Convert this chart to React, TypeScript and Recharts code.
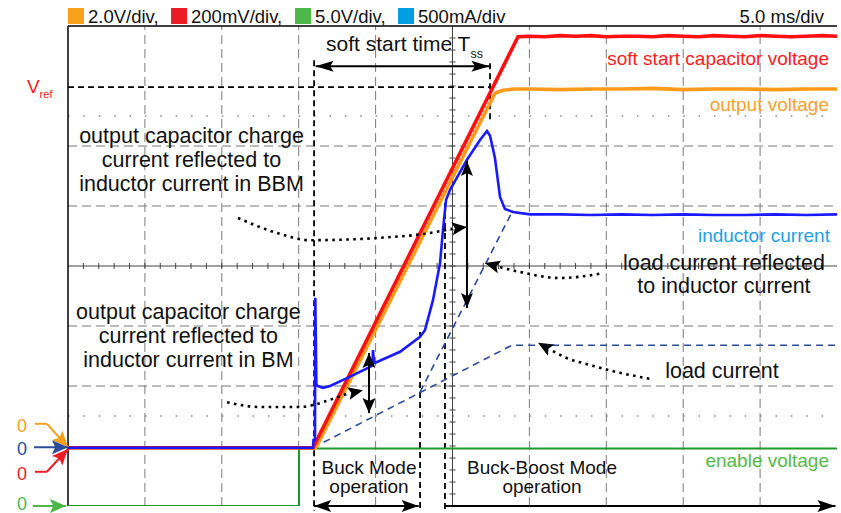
import { ComposedChart, Line, XAxis, YAxis, ReferenceLine, ReferenceDot } from "recharts";

const FONT = "'Liberation Sans', Arial, Helvetica, sans-serif";

// time in ms (5.0 ms/div, 10 div); vertical in screen divisions (-4..4)
const gridX = [5, 10, 15, 20, 30, 35, 40, 45];
const gridY = [2, 1, -1, -2];
const dotGridY = [2.5, -2.5];

// enable voltage
const enableT = [0, 15.02, 15.02, 50];
const enableV = [-4, -4, -3.04, -3.04];

// soft start capacitor voltage
const ssT = [0, 15.93, 29.26, 30, 31, 32, 33, 34, 35, 36, 37, 38, 39, 40, 41, 42, 43, 44, 45, 46, 47, 48, 49, 50];
const ssV = [-3.03, -3.03, 3.82, 3.83, 3.82, 3.84, 3.83, 3.84, 3.82, 3.83, 3.83, 3.82, 3.84, 3.83, 3.82, 3.84, 3.83, 3.82, 3.84, 3.83, 3.82, 3.83, 3.84, 3.83];

// output voltage
const outT = [0, 16.12, 27.76, 28.28, 29, 30, 32, 34, 36, 38, 40, 42, 44, 46, 48, 50];
const outV = [-3.03, -3.03, 2.88, 2.93, 2.95, 2.95, 2.94, 2.95, 2.95, 2.96, 2.94, 2.95, 2.95, 2.94, 2.95, 2.95];

// inductor current
const indT = [0, 15.93, 15.96, 16.06, 16.08, 16.15, 16.25, 16.58, 17.04, 18.14, 19.64, 19.8, 19.83, 19.9, 20.09, 21.59, 22.89, 23.21, 23.73, 24.19, 24.38, 24.58, 24.84, 25.94, 26.79, 27.24, 27.44, 27.76, 28.09, 28.41, 28.93, 30.04, 32, 34, 36, 38, 40, 42, 44, 46, 48, 50];
const indV = [-3.03, -3.03, -2.9, -2.9, -0.53, -1.98, -2.0, -2.03, -2.0, -1.87, -1.68, -1.65, -1.4, -1.62, -1.6, -1.43, -1.18, -1.07, -0.57, 0.05, 0.6, 1.1, 1.27, 1.77, 2.1, 2.25, 2.17, 1.8, 1.15, 0.95, 0.9, 0.86, 0.86, 0.85, 0.86, 0.85, 0.86, 0.85, 0.85, 0.86, 0.85, 0.86];

// load current (sketched, dashed)
const loadT = [15.93, 28.87, 50];
const loadV = [-3.03, -1.32, -1.32];
const loadReflT = [22.89, 28.93];
const loadReflV = [-2.1, 0.93];

// dotted pointer curves (end at arrow base)
const bbmCurveT = [11.05, 13.59, 15.73, 20.29, 23.54, 24.97];
const bbmCurveV = [0.8, 0.55, 0.43, 0.47, 0.55, 0.62];
const reflCurveT = [28.09, 29.39, 31.99, 34.79];
const reflCurveV = [-0.02, -0.1, -0.2, -0.12];
const loadCurveT = [31.53, 32.31, 33.94, 35.89, 37.84];
const loadCurveV = [-1.42, -1.52, -1.65, -1.78, -1.88];
const bmCurveT = [10.34, 12.48, 15.08, 17.04, 18.14];
const bmCurveV = [-2.27, -2.35, -2.35, -2.23, -2.13];

const legendLabels = ["2.0V/div,", "200mV/div,", "5.0V/div,", "500mA/div"];
const legendColors = ["#f7a11a", "#ed1c24", "#4db848", "#009ee0"];
const legendBoxT = [0, 6.7, 14.76, 21.46];

const pts = (ts: number[], vs: number[]) => ts.map((t, i) => ({ t, v: vs[i] }));

const arrow =
  (len: number, half: number, start: boolean, end: boolean, color = "#000", line = true, w = 2) =>
  (p: any) => {
    const { x1, y1, x2, y2 } = p;
    const dx = x2 - x1;
    const dy = y2 - y1;
    const L = Math.hypot(dx, dy) || 1;
    const ux = dx / L;
    const uy = dy / L;
    const head = (x: number, y: number, sx: number, sy: number) => {
      const bx = x - sx * len;
      const by = y - sy * len;
      const nx = x - sx * len * 0.8;
      const ny = y - sy * len * 0.8;
      return `${x},${y} ${bx - sy * half},${by + sx * half} ${nx},${ny} ${bx + sy * half},${by - sx * half}`;
    };
    return (
      <g>
        {line && <line x1={x1} y1={y1} x2={x2} y2={y2} stroke={color} strokeWidth={w} />}
        {end && <polygon points={head(x2, y2, ux, uy)} fill={color} />}
        {start && <polygon points={head(x1, y1, -ux, -uy)} fill={color} />}
      </g>
    );
  };

type Note = { t: number; d: number; lines: string[]; size: number; color: string; anchor: "start" | "middle" | "end"; lead?: number };

const notes: Note[] = [
  { t: 49.48, d: 3.35, lines: ["soft start capacitor voltage"], size: 19, color: "#ff2020", anchor: "end" },
  { t: 49.48, d: 2.58, lines: ["output voltage"], size: 19, color: "#f7a12e", anchor: "end" },
  { t: 49.54, d: 0.4, lines: ["inductor current"], size: 19, color: "#1ea0e6", anchor: "end" },
  { t: 49.48, d: -3.35, lines: ["enable voltage"], size: 19, color: "#55b947", anchor: "end" },
  { t: 42.65, d: -0.07, lines: ["load current reflected", "to inductor current"], size: 21.5, color: "#111", anchor: "middle", lead: 23 },
  { t: 42.52, d: -1.87, lines: ["load current"], size: 21.5, color: "#111", anchor: "middle" },
  { t: 8.03, d: 2.05, lines: ["output capacitor charge", "current reflected to", "inductor current in BBM"], size: 21.5, color: "#111", anchor: "middle", lead: 24 },
  { t: 7.83, d: -0.88, lines: ["output capacitor charge", "current reflected to", "inductor current in BM"], size: 21.5, color: "#111", anchor: "middle", lead: 24 },
  { t: 19.57, d: -3.47, lines: ["Buck Mode", "operation"], size: 19, color: "#111", anchor: "middle", lead: 19 },
  { t: 30.82, d: -3.47, lines: ["Buck-Boost Mode", "operation"], size: 19, color: "#111", anchor: "middle", lead: 19 },
  { t: 49.15, d: 4.05, lines: ["5.0 ms/div"], size: 18.5, color: "#111", anchor: "end" },
];

const textShape = (n: Note) => (p: any) => (
  <text x={p.cx} y={p.cy} fill={n.color} fontSize={n.size} fontFamily={FONT} textAnchor={n.anchor}>
    {n.lines.map((s, i) => (
      <tspan key={i} x={p.cx} dy={i === 0 ? 0 : n.lead ?? 24}>
        {s}
      </tspan>
    ))}
  </text>
);

const zeros = [
  { d: -2.77, color: "#f5a01a" },
  { d: -3.15, color: "#2a4a9a" },
  { d: -3.57, color: "#ec1c24" },
  { d: -4.06, color: "#4cb848" },
];

const hTicks = Array.from({ length: 49 }, (_, i) => i + 1);
const vTicks = Array.from({ length: 39 }, (_, i) => -3.8 + i * 0.2);

const GRID = "#7a7a7a";

export default function App() {
  return (
    <div style={{ position: "absolute", left: 0, top: 0, width: 841, height: 513, background: "#fff" }}>
      <ComposedChart width={841} height={513} margin={{ top: 26, right: 4, bottom: 7, left: 68 }}>
        <XAxis type="number" dataKey="t" domain={[0, 50]} hide allowDataOverflow />
        <YAxis type="number" domain={[-4, 4]} hide allowDataOverflow />

        {gridX.map((x) => (
          <ReferenceLine key={"gx" + x} x={x} stroke={GRID} strokeWidth={1} strokeDasharray="9 5" />
        ))}
        {gridY.map((y) => (
          <ReferenceLine key={"gy" + y} y={y} stroke={GRID} strokeWidth={1} strokeDasharray="9 5" />
        ))}
        {dotGridY.map((y) => (
          <ReferenceLine key={"dy" + y} y={y} stroke="#888" strokeWidth={1.5} strokeDasharray="1.5 13.88" />
        ))}
        <ReferenceLine x={25} stroke="#444" strokeWidth={1} />
        <ReferenceLine y={0} stroke="#444" strokeWidth={1} />
        {hTicks.map((t) => (
          <ReferenceLine key={"ht" + t} segment={[{ x: t, y: -0.05 }, { x: t, y: 0.05 }]} stroke="#444" strokeWidth={1} />
        ))}
        {vTicks.map((d, i) => (
          <ReferenceLine key={"vt" + i} segment={[{ x: 24.8, y: d }, { x: 25.2, y: d }]} stroke="#444" strokeWidth={1} />
        ))}
        <ReferenceLine y={4} stroke="#000" strokeWidth={1.5} />
        <ReferenceLine x={0} stroke="#000" strokeWidth={1.5} />

        {/* black dashed markers */}
        <ReferenceLine segment={[{ x: 0, y: 2.98 }, { x: 27.44, y: 2.98 }]} stroke="#000" strokeWidth={1.8} strokeDasharray="6 4" />
        <ReferenceLine segment={[{ x: 16.0, y: 3.43 }, { x: 16.0, y: -4.08 }]} stroke="#000" strokeWidth={1.8} strokeDasharray="6 4" ifOverflow="visible" />
        <ReferenceLine segment={[{ x: 27.44, y: 3.38 }, { x: 27.44, y: 2.43 }]} stroke="#000" strokeWidth={1.8} strokeDasharray="6 4" />
        <ReferenceLine segment={[{ x: 22.89, y: -1.1 }, { x: 22.89, y: -4.08 }]} stroke="#000" strokeWidth={1.8} strokeDasharray="6 4" ifOverflow="visible" />
        <ReferenceLine segment={[{ x: 24.51, y: 1.05 }, { x: 24.51, y: -4.08 }]} stroke="#000" strokeWidth={1.8} strokeDasharray="6 4" ifOverflow="visible" />

        <Line data={pts(enableT, enableV)} dataKey="v" type="linear" stroke="#1e9a2a" strokeWidth={2} dot={false} isAnimationActive={false} />
        <Line data={pts(loadT, loadV)} dataKey="v" type="linear" stroke="#2b4a9a" strokeWidth={1.6} strokeDasharray="7 5" dot={false} isAnimationActive={false} />
        <Line data={pts(loadReflT, loadReflV)} dataKey="v" type="linear" stroke="#2b4a9a" strokeWidth={1.6} strokeDasharray="7 5" dot={false} isAnimationActive={false} />
        <Line data={pts(outT, outV)} dataKey="v" type="linear" stroke="#ff9a1a" strokeWidth={3.6} dot={false} isAnimationActive={false} />
        <Line data={pts(ssT, ssV)} dataKey="v" type="linear" stroke="#ff1010" strokeWidth={3.6} dot={false} isAnimationActive={false} />
        <Line data={pts(indT, indV)} dataKey="v" type="linear" stroke="#1a1aff" strokeWidth={2.6} dot={false} isAnimationActive={false} />

        {/* dotted pointers */}
        {[
          [bbmCurveT, bbmCurveV],
          [reflCurveT, reflCurveV],
          [loadCurveT, loadCurveV],
          [bmCurveT, bmCurveV],
        ].map(([ts, vs], i) => (
          <Line key={"c" + i} data={pts(ts, vs)} dataKey="v" type="monotone" stroke="#000" strokeWidth={2.6} strokeDasharray="2.6 4.4" dot={false} isAnimationActive={false} />
        ))}
        <ReferenceLine segment={[{ x: 24.97, y: 0.62 }, { x: 25.94, y: 0.65 }]} shape={arrow(15, 6.5, false, true, "#000", false)} />
        <ReferenceLine segment={[{ x: 28.09, y: -0.02 }, { x: 27.11, y: 0.05 }]} shape={arrow(15, 6.5, false, true, "#000", false)} />
        <ReferenceLine segment={[{ x: 31.53, y: -1.42 }, { x: 30.56, y: -1.28 }]} shape={arrow(15, 6.5, false, true, "#000", false)} />
        <ReferenceLine segment={[{ x: 18.14, y: -2.13 }, { x: 19.18, y: -2.07 }]} shape={arrow(15, 6.5, false, true, "#000", false)} />

        {/* double arrows */}
        <ReferenceLine segment={[{ x: 16.1, y: 3.33 }, { x: 27.4, y: 3.33 }]} shape={arrow(18, 5.5, true, true)} />
        <ReferenceLine segment={[{ x: 25.94, y: 1.75 }, { x: 25.94, y: -0.7 }]} shape={arrow(15, 6, true, true)} />
        <ReferenceLine segment={[{ x: 19.57, y: -1.45 }, { x: 19.57, y: -2.45 }]} shape={arrow(15, 6.5, true, true)} />
        <ReferenceLine segment={[{ x: 16.0, y: -4 }, { x: 22.8, y: -4 }]} shape={arrow(17, 6, true, true)} ifOverflow="visible" />
        <ReferenceLine segment={[{ x: 24.51, y: -4 }, { x: 49.9, y: -4 }]} shape={arrow(18, 6, false, true)} ifOverflow="visible" />

        {/* zero markers at left */}
        <ReferenceLine segment={[{ x: -2.15, y: -2.63 }, { x: -1.37, y: -2.63 }]} stroke="#f5a01a" strokeWidth={2} ifOverflow="visible" />
        <ReferenceLine segment={[{ x: -1.37, y: -2.63 }, { x: 0, y: -3.02 }]} shape={arrow(16, 7, false, true, "#f5a01a", true)} ifOverflow="visible" />
        <ReferenceLine segment={[{ x: -2.21, y: -3.02 }, { x: 0, y: -3.02 }]} shape={arrow(16, 7, false, true, "#2a4a9a", true)} ifOverflow="visible" />
        <ReferenceLine segment={[{ x: -2.15, y: -3.43 }, { x: -1.37, y: -3.43 }]} stroke="#ec1c24" strokeWidth={2} ifOverflow="visible" />
        <ReferenceLine segment={[{ x: -1.37, y: -3.43 }, { x: 0, y: -3.05 }]} shape={arrow(16, 7, false, true, "#ec1c24", true)} ifOverflow="visible" />
        <ReferenceLine segment={[{ x: -2.28, y: -4 }, { x: -0.13, y: -4 }]} shape={arrow(16, 7, false, true, "#4cb848", true)} ifOverflow="visible" />
        {zeros.map((z, i) => (
          <ReferenceDot
            key={"z" + i}
            x={-2.99}
            y={z.d}
            ifOverflow="visible"
            shape={textShape({ t: 0, d: 0, lines: ["0"], size: 18, color: z.color, anchor: "middle" })}
          />
        ))}

        {/* Vref */}
        <ReferenceDot
          x={-2.67}
          y={2.88}
          ifOverflow="visible"
          shape={(p: any) => (
            <text x={p.cx} y={p.cy} fill="#ec1c24" fontFamily={FONT} fontSize={19}>
              V<tspan fontSize={11} dy={5}>ref</tspan>
            </text>
          )}
        />
        {/* Tss label */}
        <ReferenceDot
          x={16.78}
          y={3.58}
          ifOverflow="visible"
          shape={(p: any) => (
            <text x={p.cx} y={p.cy} fill="#111" fontFamily={FONT} fontSize={21}>
              soft start time T<tspan fontSize={12.5} dy={7}>ss</tspan>
            </text>
          )}
        />

        {/* header legend */}
        {legendLabels.map((s, i) => (
          <ReferenceDot
            key={"lg" + i}
            x={legendBoxT[i]}
            y={4.3}
            ifOverflow="visible"
            shape={(p: any) => (
              <g>
                <rect x={p.cx} y={p.cy} width={16} height={16} fill={legendColors[i]} />
                <text x={p.cx + 20} y={p.cy + 15} fill="#111" fontFamily={FONT} fontSize={18.5}>
                  {s}
                </text>
              </g>
            )}
          />
        ))}

        {notes.map((n, i) => (
          <ReferenceDot key={"n" + i} x={n.t} y={n.d} ifOverflow="visible" shape={textShape(n)} />
        ))}
      </ComposedChart>
    </div>
  );
}
